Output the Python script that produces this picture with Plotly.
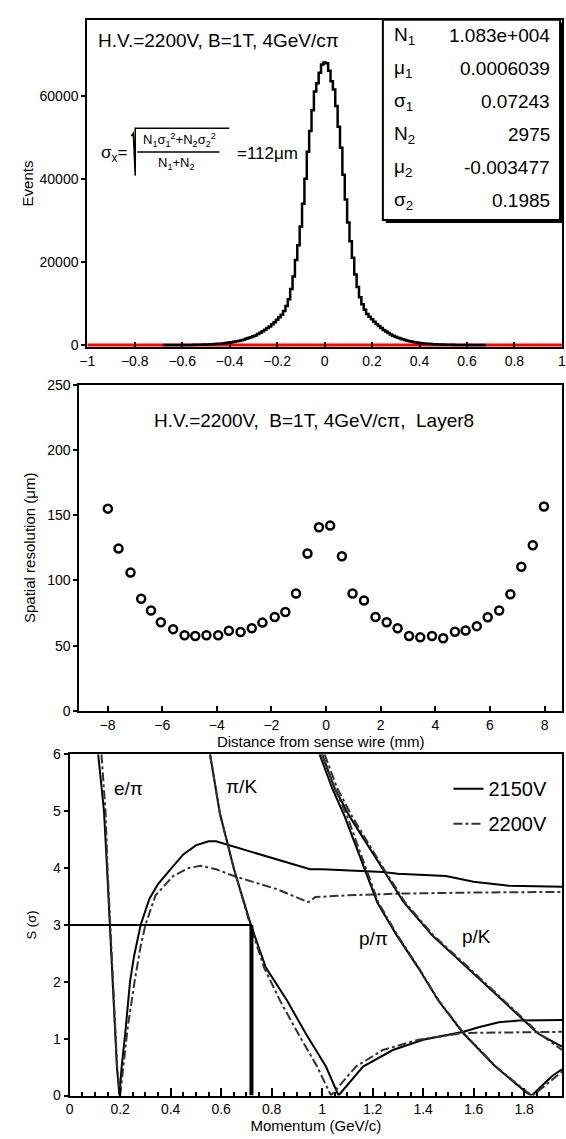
import numpy as np
import plotly.graph_objects as go

W, H = 566, 1139
FONT = "Liberation Sans, Arial, sans-serif"

def px(x):
    return x / W

def py(y):
    return 1 - y / H

# ---------------- Panel 1 : residual histogram ----------------
HIST_X0, HIST_X1 = -0.68, 0.68          # first / last bin centre
HIST_COUNTS_LEFT = [   # x = -0.68 ... -0.01
    0, 2, 3, 5, 7, 9, 12, 16, 20, 25, 30, 38, 45, 55, 65, 80, 95, 115, 135, 160,
    190, 220, 260, 300, 350, 410, 470, 540, 620, 700, 800, 900, 1000, 1150, 1300,
    1500, 1700, 1900, 2100, 2300, 2650, 2950, 3300, 3700, 4100, 4500, 5000, 5500,
    6100, 6700, 7300, 8200, 9400, 11000, 13500, 16500, 20500, 24000, 28500, 34000,
    40000, 46500, 51500, 56500, 61000, 63000, 65500, 67500,
]
HIST_COUNT_CENTRE = [68000]
HIST_COUNTS_RIGHT = [  # x = 0.01 ... 0.68
    67800, 66000, 63500, 61500, 57500, 52500, 47500, 41000, 35000, 29500, 25000,
    21000, 17000, 14000, 11500, 9800, 8500, 7500, 6800, 6200, 5600, 5100, 4600,
    4100, 3650, 3250, 2900, 2550, 2250, 2000, 1780, 1570, 1380, 1200, 1050, 920,
    800, 700, 610, 530, 460, 400, 345, 295, 255, 220, 185, 160, 135, 115, 95, 80,
    67, 55, 45, 37, 30, 25, 20, 16, 12, 9, 7, 5, 4, 2, 1, 0,
]
FIT_X = [-1.0, 1.0]
FIT_Y = [0.0, 0.0]
STAT_LABELS = ["N<sub>1</sub>", "μ<sub>1</sub>", "σ<sub>1</sub>",
               "N<sub>2</sub>", "μ<sub>2</sub>", "σ<sub>2</sub>"]
STAT_VALUES = ["1.083e+004", "0.0006039", "0.07243", "2975", "-0.003477", "0.1985"]

# ---------------- Panel 2 : spatial resolution ----------------
DIST_MM = [-7.99, -7.6, -7.16, -6.77, -6.41, -6.05, -5.6, -5.18, -4.79, -4.38,
           -3.95, -3.56, -3.13, -2.72, -2.33, -1.88, -1.49, -1.10, -0.68, -0.26,
           0.15, 0.58, 0.97, 1.39, 1.81, 2.22, 2.62, 3.04, 3.45, 3.88, 4.29,
           4.72, 5.11, 5.52, 5.92, 6.34, 6.75, 7.15, 7.57, 7.98]
RESOLUTION_UM = [155, 124.4, 106, 86, 77, 68, 62.7, 58, 57.5, 58,
                 58, 61.4, 60.5, 63.4, 67.7, 72, 75.8, 90, 120.6, 140.7,
                 142, 118.6, 90, 84.6, 72, 68, 63.4, 57.5, 56.4, 57.5, 55.7,
                 60.7, 61.7, 65, 71.8, 77, 89.4, 110.5, 126.9, 156.6]

# ---------------- Panel 3 : separation power ----------------
EPI_2150_P = [0.113, 0.125, 0.136, 0.148, 0.159, 0.173, 0.187, 0.197, 0.206, 0.220,
              0.239, 0.255, 0.271, 0.281, 0.316, 0.35, 0.40, 0.45, 0.50, 0.55,
              0.58, 0.65, 0.75, 0.85, 0.952, 1.0, 1.1, 1.24, 1.30, 1.49, 1.60,
              1.74, 1.95]
EPI_2150_S = [6.0, 5.5, 5.0, 4.0, 3.0, 1.67, 0.51, 0.0, 0.51, 1.09,
              2.0, 2.45, 2.82, 3.0, 3.46, 3.72, 3.98, 4.24, 4.40, 4.47,
              4.47, 4.38, 4.25, 4.12, 3.98, 3.98, 3.96, 3.93, 3.90, 3.86, 3.76,
              3.69, 3.67]
EPI_2200_P = [0.126, 0.135, 0.142, 0.150, 0.161, 0.174, 0.188, 0.200, 0.212, 0.230,
              0.257, 0.280, 0.300, 0.34, 0.41, 0.47, 0.518, 0.58, 0.65, 0.82,
              0.945, 0.973, 1.1, 1.3, 1.6, 1.95]
EPI_2200_S = [6.0, 5.5, 5.0, 4.0, 3.0, 1.67, 0.51, 0.0, 0.51, 1.2,
              2.0, 2.6, 3.0, 3.52, 3.86, 4.0, 4.04, 3.98, 3.86, 3.63,
              3.40, 3.49, 3.52, 3.55, 3.57, 3.58]
PIK_2150_P = [0.556, 0.595, 0.651, 0.718, 0.777, 0.861, 0.935, 1.015, 1.065, 1.162,
              1.28, 1.40, 1.56, 1.62, 1.70, 1.78, 1.95]
PIK_2150_S = [6.0, 4.96, 3.98, 3.0, 2.25, 1.67, 1.09, 0.51, 0.0, 0.51,
              0.8, 0.98, 1.12, 1.2, 1.29, 1.32, 1.33]
PIK_2200_P = [0.556, 0.595, 0.651, 0.715, 0.770, 0.833, 0.905, 0.98, 1.035, 1.134,
              1.24, 1.38, 1.56, 1.70, 1.95]
PIK_2200_S = [6.0, 4.96, 3.98, 3.0, 2.25, 1.67, 1.09, 0.51, 0.0, 0.51,
              0.8, 0.98, 1.10, 1.11, 1.12]
PPI_2150_P = [0.99, 1.04, 1.09, 1.169, 1.218, 1.295, 1.38, 1.46, 1.56, 1.686,
              1.81, 1.83, 1.91, 1.95]
PPI_2150_S = [6.0, 5.4, 4.9, 3.98, 3.4, 2.82, 2.25, 1.67, 1.09, 0.51,
              0.05, 0.0, 0.34, 0.46]
PPI_2200_P = [1.0, 1.05, 1.10, 1.175, 1.222, 1.298, 1.382, 1.462, 1.562, 1.688,
              1.815, 1.835, 1.915, 1.95]
PPI_2200_S = [6.0, 5.4, 4.9, 3.98, 3.4, 2.82, 2.25, 1.67, 1.09, 0.51,
              0.05, 0.0, 0.30, 0.42]
PK_2150_P = [1.0, 1.05, 1.11, 1.239, 1.323, 1.435, 1.575, 1.715, 1.855, 1.95]
PK_2150_S = [6.0, 5.4, 4.9, 3.98, 3.4, 2.82, 2.25, 1.67, 1.09, 0.86]
PK_2200_P = [1.01, 1.06, 1.12, 1.245, 1.328, 1.44, 1.58, 1.72, 1.86, 1.95]
PK_2200_S = [6.0, 5.4, 4.9, 3.98, 3.4, 2.82, 2.25, 1.67, 1.09, 0.80]
P_CUT = 0.72
S_CUT = 3.0
CURVE_LABELS = ["e/π", "π/K", "p/π", "p/K"]
CURVE_LABEL_P = [0.235, 0.68, 1.205, 1.61]
CURVE_LABEL_S = [5.4, 5.43, 2.77, 2.8]

fig = go.Figure()

# ----- panel 1 traces
HIST_COUNTS = HIST_COUNTS_LEFT + HIST_COUNT_CENTRE + HIST_COUNTS_RIGHT
bin_centres = np.linspace(HIST_X0, HIST_X1, len(HIST_COUNTS))
fig.add_trace(go.Scatter(x=FIT_X, y=FIT_Y, mode="lines", line=dict(color="red", width=3),
                         xaxis="x", yaxis="y", showlegend=False, hoverinfo="skip"))
fig.add_trace(go.Scatter(x=bin_centres, y=HIST_COUNTS, mode="lines", line_shape="hvh",
                         line=dict(color="black", width=2.5), xaxis="x", yaxis="y",
                         showlegend=False))

# ----- panel 2 traces
fig.add_trace(go.Scatter(x=DIST_MM, y=RESOLUTION_UM, mode="markers",
                         marker=dict(symbol="circle-open", size=8, color="black",
                                     line=dict(width=2.5, color="black")),
                         xaxis="x2", yaxis="y2", showlegend=False))

# ----- panel 3 traces
solid = dict(color="black", width=2)
dashd = dict(color="#333333", width=2, dash="dashdot")
fig.add_trace(go.Scatter(x=EPI_2150_P, y=EPI_2150_S, mode="lines", line=solid, name="2150V",
                         legendgroup="a", xaxis="x3", yaxis="y3"))
fig.add_trace(go.Scatter(x=EPI_2200_P, y=EPI_2200_S, mode="lines", line=dashd, name="2200V",
                         legendgroup="b", xaxis="x3", yaxis="y3"))
for p, s in [(PIK_2150_P, PIK_2150_S), (PPI_2150_P, PPI_2150_S), (PK_2150_P, PK_2150_S)]:
    fig.add_trace(go.Scatter(x=p, y=s, mode="lines", line=solid, showlegend=False,
                             legendgroup="a", xaxis="x3", yaxis="y3"))
for p, s in [(PIK_2200_P, PIK_2200_S), (PPI_2200_P, PPI_2200_S), (PK_2200_P, PK_2200_S)]:
    fig.add_trace(go.Scatter(x=p, y=s, mode="lines", line=dashd, showlegend=False,
                             legendgroup="b", xaxis="x3", yaxis="y3"))
fig.add_trace(go.Scatter(x=[0, P_CUT], y=[S_CUT, S_CUT], mode="lines",
                         line=dict(color="black", width=2), showlegend=False,
                         xaxis="x3", yaxis="y3"))
fig.add_trace(go.Scatter(x=[P_CUT, P_CUT], y=[0, S_CUT], mode="lines",
                         line=dict(color="black", width=4), showlegend=False,
                         xaxis="x3", yaxis="y3"))

# ----- axes
def ax(**kw):
    base = dict(showline=True, mirror=True, linewidth=2, linecolor="black",
                showgrid=False, zeroline=False, tickcolor="black", tickwidth=1.5,
                tickfont=dict(size=14, color="black", family=FONT),
                ticklabeloverflow="allow")
    base.update(kw)
    return base

title_font = dict(size=15, color="black", family=FONT)

fig.update_layout(
    width=W, height=H, margin=dict(l=0, r=0, t=0, b=0),
    paper_bgcolor="white", plot_bgcolor="white",
    font=dict(family=FONT, color="black"),
    xaxis=ax(domain=[px(81), 1], range=[-1, 1.0005], anchor="y", dtick=0.2, tick0=0,
             ticks="inside", ticklen=5),
    yaxis=ax(domain=[py(344), py(12)], range=[-500, 78250], anchor="x", dtick=20000,
             tickformat="d", ticks="outside", ticklen=4,
             title=dict(text="Events", font=title_font, standoff=2)),
    xaxis2=ax(domain=[px(73), 1], range=[-9.03, 8.64], anchor="y2", dtick=2, tick0=0,
              ticks="inside", ticklen=5,
              title=dict(text="Distance from sense wire (mm)", font=title_font, standoff=2)),
    yaxis2=ax(domain=[py(713), py(382)], range=[0, 250], anchor="x2", dtick=50,
              ticks="outside", ticklen=4,
              title=dict(text="Spatial resolution (μm)", font=title_font, standoff=8)),
    xaxis3=ax(domain=[px(63), 1], range=[0, 1.95], anchor="y3", dtick=0.2, tick0=0,
              ticks="inside", ticklen=8,
              minor=dict(dtick=0.05, ticks="inside", ticklen=4, tickcolor="black"),
              title=dict(text="Momentum (GeV/c)", font=title_font, standoff=1)),
    yaxis3=ax(domain=[py(1103), py(757)], range=[0, 6], anchor="x3", dtick=1,
              ticks="outside", ticklen=4,
              title=dict(text="S (σ)", font=dict(size=13, color="black", family=FONT),
                         standoff=14)),
    legend=dict(x=px(450), y=py(772), xanchor="left", yanchor="top",
                font=dict(size=20, color="black", family=FONT),
                traceorder="grouped", tracegroupgap=6, bgcolor="rgba(0,0,0,0)"),
)

# ----- annotations
ann = []
ann.append(dict(text="H.V.=2200V, B=1T, 4GeV/cπ", x=px(90), y=py(33), xref="paper",
                yref="paper", xanchor="left", yanchor="middle", showarrow=False,
                font=dict(size=19, family=FONT, color="black")))
# formula
ann.append(dict(text="σ<sub>x</sub>=", x=px(93), y=py(148), xref="paper", yref="paper",
                xanchor="left", yanchor="middle", showarrow=False,
                font=dict(size=17, family=FONT, color="black")))
ann.append(dict(text="N<sub>1</sub>σ<sub>1</sub><sup>2</sup>+N<sub>2</sub>σ<sub>2</sub><sup>2</sup>",
                x=px(175), y=py(134), xref="paper", yref="paper", xanchor="center",
                yanchor="middle", showarrow=False, font=dict(size=13, family=FONT, color="black")))
ann.append(dict(text="N<sub>1</sub>+N<sub>2</sub>", x=px(172), y=py(158), xref="paper",
                yref="paper", xanchor="center", yanchor="middle", showarrow=False,
                font=dict(size=13, family=FONT, color="black")))
ann.append(dict(text="=112μm", x=px(232), y=py(148), xref="paper", yref="paper",
                xanchor="left", yanchor="middle", showarrow=False,
                font=dict(size=17, family=FONT, color="black")))
# stats box
for i, (lab, val) in enumerate(zip(STAT_LABELS, STAT_VALUES)):
    yy = py(28 + 33.5 * i)
    ann.append(dict(text=lab, x=px(392), y=yy, xref="paper", yref="paper", xanchor="left",
                    yanchor="middle", showarrow=False,
                    font=dict(size=19, family=FONT, color="black")))
    ann.append(dict(text=val, x=px(556), y=yy, xref="paper", yref="paper", xanchor="right",
                    yanchor="middle", showarrow=False,
                    font=dict(size=19, family=FONT, color="black")))
# panel 2 label
ann.append(dict(text="H.V.=2200V,  B=1T, 4GeV/cπ,  Layer8", x=px(313), y=py(418),
                xref="paper", yref="paper", xanchor="center", yanchor="middle",
                showarrow=False, font=dict(size=19, family=FONT, color="black")))
# panel 3 curve labels
for t, xx, yy in zip(CURVE_LABELS, CURVE_LABEL_P, CURVE_LABEL_S):
    ann.append(dict(text=t, x=xx, y=yy, xref="x3", yref="y3", xanchor="center",
                    yanchor="middle", showarrow=False,
                    font=dict(size=19, family=FONT, color="black")))
fig.update_layout(annotations=ann)

# ----- shapes (stats box + radical sign)
shapes = [
    dict(type="rect", xref="paper", yref="paper", x0=px(386), x1=px(567), y0=py(218), y1=py(15),
         fillcolor="black", line=dict(width=0), layer="above"),
    dict(type="rect", xref="paper", yref="paper", x0=px(383), x1=px(564), y0=py(215), y1=py(12),
         fillcolor="white", line=dict(color="black", width=2), layer="above"),
    dict(type="path", xref="paper", yref="paper",
         path=f"M {px(126)},{py(130)} L {px(128)},{py(127)} L {px(130)},{py(170)} "
              f"L {px(130)},{py(122)} L {px(226)},{py(122)}",
         line=dict(color="black", width=1.5), layer="above"),
    dict(type="line", xref="paper", yref="paper", x0=px(132), x1=px(216), y0=py(146), y1=py(146),
         line=dict(color="black", width=1.5), layer="above"),
]
fig.update_layout(shapes=shapes)

fig.write_html("out.html")
